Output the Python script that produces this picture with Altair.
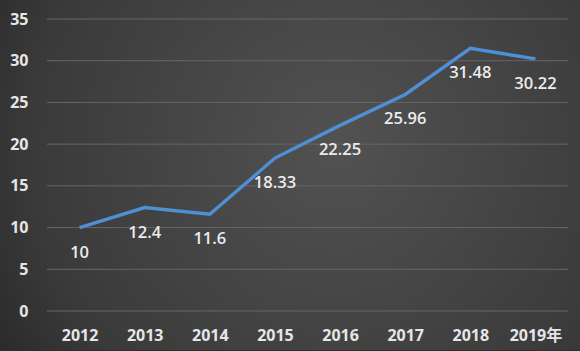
import altair as alt
import pandas as pd

years = ["2012", "2013", "2014", "2015", "2016", "2017", "2018", "2019年"]
values = [10, 12.4, 11.6, 18.33, 22.25, 25.96, 31.48, 30.22]
labels = ["10", "12.4", "11.6", "18.33", "22.25", "25.96", "31.48", "30.22"]
y_ticks = [0, 5, 10, 15, 20, 25, 30, 35]

df = pd.DataFrame({"year": years, "value": values, "label": labels})
grid_df = pd.DataFrame({"g": y_ticks})
FONT = "Open Sans, Noto Sans CJK SC"

yscale = alt.Scale(domain=[0, 35], nice=False)

bg = alt.Chart(pd.DataFrame({"a": [0]})).mark_rect(
    color=alt.RadialGradient(
        gradient="radial",
        x1=0.58, y1=0.45, r1=0.0,
        x2=0.58, y2=0.45, r2=0.75,
        stops=[alt.GradientStop(color="#525252", offset=0),
               alt.GradientStop(color="#3a3a3a", offset=0.7),
               alt.GradientStop(color="#242424", offset=1)],
    )
).encode(
    x=alt.value(-47), x2=alt.value(533), y=alt.value(-20), y2=alt.value(331)
)

grid = alt.Chart(grid_df).mark_rule(color="#666666", strokeWidth=1).encode(
    y=alt.Y("g:Q", scale=yscale, title=None,
            axis=alt.Axis(values=y_ticks, domain=False, ticks=False, grid=False, zindex=1,
                          labelFont=FONT, labelFontSize=16, labelFontWeight="bold",
                          labelColor="#e6e6e6", labelPadding=19)),
    x=alt.value(0), x2=alt.value(521),
)

base = alt.Chart(df).encode(
    x=alt.X("year:N", sort=years, title=None,
            scale=alt.Scale(paddingInner=0, paddingOuter=0),
            axis=alt.Axis(labelAngle=0, domain=False, ticks=False, grid=False, zindex=1,
                          labelFont=FONT, labelFontSize=16, labelFontWeight="bold",
                          labelColor="#e6e6e6", labelPadding=16)),
    y=alt.Y("value:Q", title=None, scale=yscale),
)

line = base.mark_line(color="#4f8fd3", strokeWidth=3.4)
text = base.mark_text(dy=25, font=FONT, fontSize=16.5, fontWeight=600,
                      color="#ececec").encode(text="label:N")

chart = alt.layer(bg, grid, line, text).properties(
    width=521, height=292,
    autosize=alt.AutoSizeParams(type="none"),
    padding={"left": 47, "top": 19, "right": 12, "bottom": 40},
    background="#2e2e2e",
).configure_view(stroke=None)

chart.save("out.html", embed_options={"renderer": "svg", "actions": False})
